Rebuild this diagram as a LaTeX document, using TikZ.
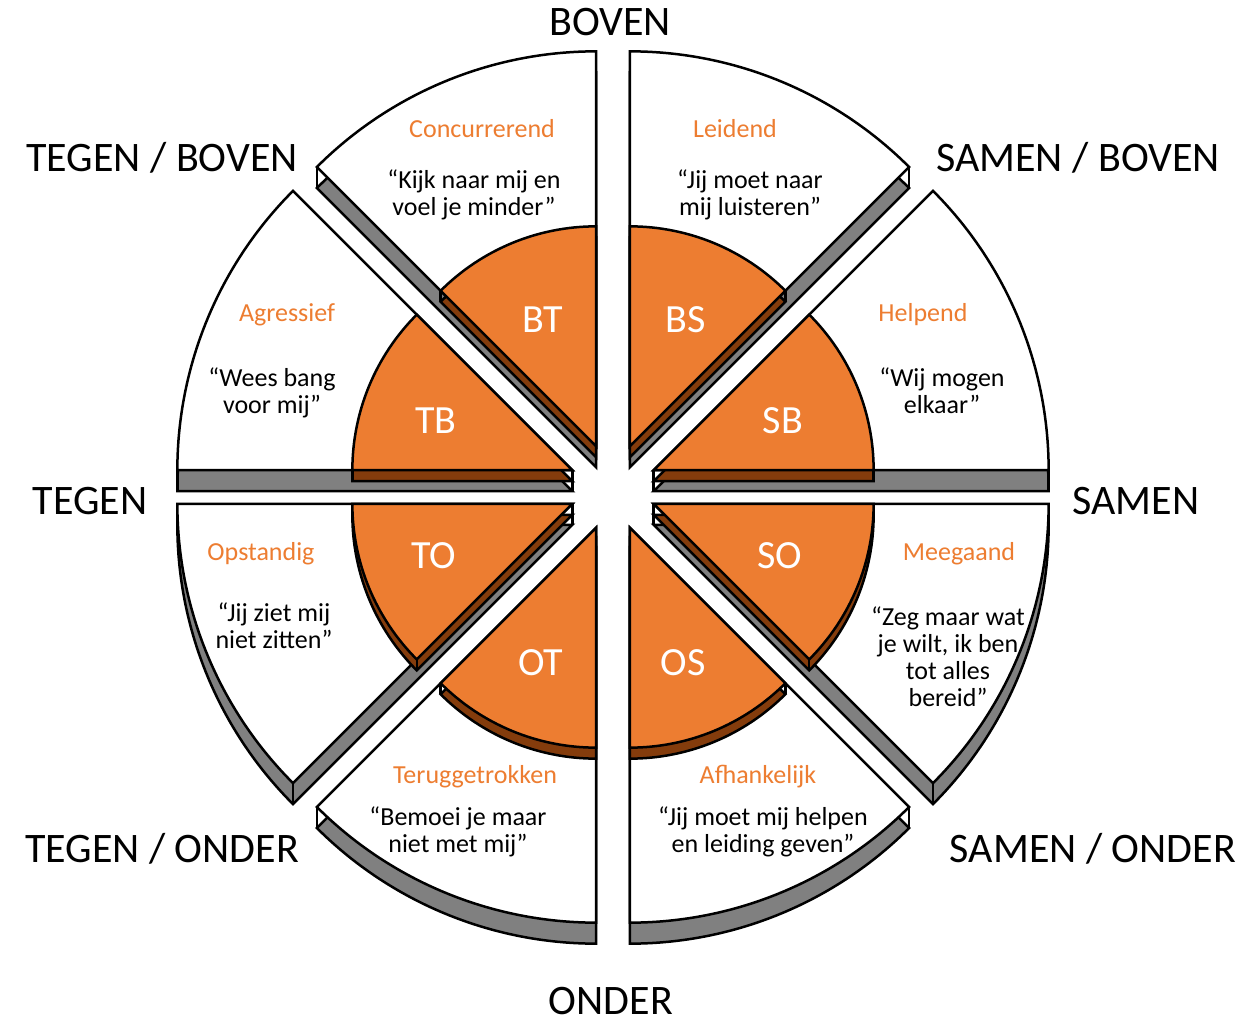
\documentclass[tikz,border=0pt]{standalone}
\usepackage{fontspec}
\setmainfont{Carlito}
\definecolor{learyorange}{HTML}{ED7D31}
\definecolor{learybrown}{HTML}{843C0C}
\definecolor{learygrey}{HTML}{808080}
\newcommand{\dirfont}{\fontsize{42}{50}\selectfont}
\newcommand{\namefont}{\fontsize{26}{27}\selectfont}
\newcommand{\codefont}{\fontsize{40}{48}\selectfont}

\begin{document}
\begin{tikzpicture}[x=1pt,y=1pt,line width=2.5pt,
	dir/.style={font=\dirfont,anchor=base,inner sep=0pt},
	title/.style={font=\namefont,text=learyorange,anchor=base},
	quote/.style={font=\namefont,align=center,anchor=base},
	code/.style={font=\codefont,text=white,anchor=base}]
	\useasboundingbox (-613,-533) rectangle (647,487);
	% the eight pieces, each with its side
	\foreach \a in {0,45,...,315} {
		\pgfmathsetmacro{\b}{\a+45}
		\coordinate (apex) at (\a+22.5:44);
		\draw[fill=learygrey] ([yshift=-21pt]apex) -- ++(\a:395) arc[start angle=\a,end angle=\b,radius=395pt] -- cycle;
		\draw (apex) -- ++(0,-21);
		\draw (apex) ++(\a:395) -- ++(0,-21);
		\draw (apex) ++(\b:395) -- ++(0,-21);
		\draw[fill=white] (apex) -- ++(\a:395) arc[start angle=\a,end angle=\b,radius=395pt] -- cycle;
		\draw[fill=learybrown] ([yshift=-11pt]apex) -- ++(\a:220) arc[start angle=\a,end angle=\b,radius=220pt] -- cycle;
		\draw (apex) -- ++(0,-11);
		\draw (apex) ++(\a:220) -- ++(0,-11);
		\draw (apex) ++(\b:220) -- ++(0,-11);
		\draw[fill=learyorange] (apex) -- ++(\a:220) arc[start angle=\a,end angle=\b,radius=220pt] -- cycle;
	}
	% directions
	\node[dir] (boven) at (-3,451) {BOVEN};
	\node[dir] (onder) at (-2,-527) {ONDER};
	\node[dir] (tegen) at (-523,-27) {TEGEN};
	\node[dir] (samen) at (523,-27) {SAMEN};
	\node[dir] (tegenboven) at (-451,315) {TEGEN / BOVEN};
	\node[dir] (samenboven) at (465,315) {SAMEN / BOVEN};
	\node[dir] (tegenonder) at (-451,-375) {TEGEN / ONDER};
	\node[dir] (samenonder) at (480,-375) {SAMEN / ONDER};
	% codes
	\node[code] (bt) at (-70,154) {BT};
	\node[code] (bs) at (73,154) {BS};
	\node[code] (tb) at (-177,54) {TB};
	\node[code] (sb) at (170,54) {SB};
	\node[code] (to) at (-179,-81) {TO};
	\node[code] (so) at (167,-81) {SO};
	\node[code] (ot) at (-72,-188) {OT};
	\node[code] (os) at (70,-188) {OS};
	% behaviour (base = last line)
	\node[title] (btname) at (-131,349) {Concurrerend};
	\node[quote] (btquote) at (-139,271) {“Kijk naar mij en\\voel je minder”};
	\node[title] (bsname) at (122,349) {Leidend};
	\node[quote] (bsquote) at (137,271) {“Jij moet naar\\mij luisteren”};
	\node[title] (sbname) at (310,165) {Helpend};
	\node[quote] (sbquote) at (329,74) {“Wij mogen\\elkaar”};
	\node[title] (soname) at (346,-73) {Meegaand};
	\node[quote] (soquote) at (335,-219) {“Zeg maar wat\\je wilt, ik ben\\tot alles\\bereid”};
	\node[title] (osname) at (145,-296) {Afhankelijk};
	\node[quote] (osquote) at (150,-365) {“Jij moet mij helpen\\en leiding geven”};
	\node[title] (otname) at (-138,-296) {Teruggetrokken};
	\node[quote] (otquote) at (-155,-365) {“Bemoei je maar\\niet met mij”};
	\node[title] (toname) at (-352,-73) {Opstandig};
	\node[quote] (toquote) at (-339,-161) {“Jij ziet mij\\niet zitten”};
	\node[title] (tbname) at (-326,165) {Agressief};
	\node[quote] (tbquote) at (-341,74) {“Wees bang\\voor mij”};
\end{tikzpicture}
\end{document}
